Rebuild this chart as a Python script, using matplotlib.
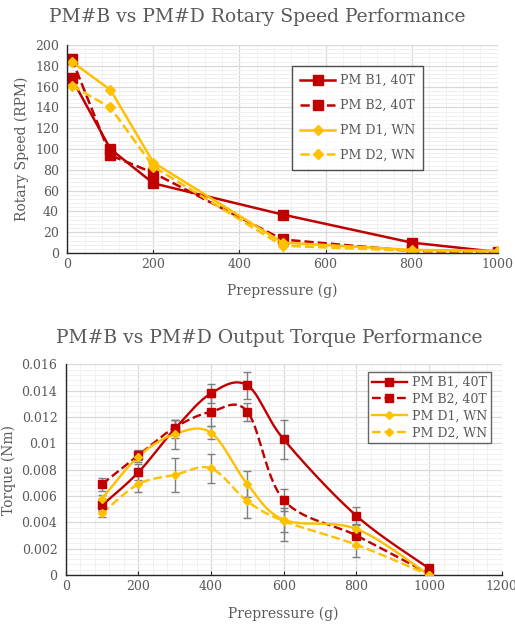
import numpy as np
import matplotlib
matplotlib.use("Agg")
import matplotlib.pyplot as plt
from matplotlib.ticker import MultipleLocator, FuncFormatter

plt.rcParams['font.family'] = ['DejaVu Serif']

# ---- speed data ----
speed_x = [10, 100, 200, 500, 800, 1000]
speed_b1 = [168, 100, 67, 37, 10, 1]
speed_b2 = [187, 94, 77, 13, 2, 0]
speed_d1 = [184, 157, 87, 10, 3, 2]
speed_d2 = [161, 140, 83, 7, 2, 1]

# ---- torque data ----
torque_x = [100, 200, 300, 400, 500, 600, 800, 1000]
torque_b1 = [0.0053, 0.0078, 0.0111, 0.0138, 0.0144, 0.0103, 0.0045, 0.0005]
torque_b2 = [0.0069, 0.0091, 0.0112, 0.0124, 0.0124, 0.0057, 0.0030, 0.0001]
torque_d1 = [0.0058, 0.0090, 0.0107, 0.0108, 0.0069, 0.0042, 0.0035, 0.0000]
torque_d2 = [0.0047, 0.0069, 0.0076, 0.0081, 0.0056, 0.0041, 0.0023, 0.0000]
err_b1 = [0.0004, 0.0006, 0.0007, 0.0007, 0.0010, 0.0015, 0.0007, 0.0001]
err_b2 = [0.0005, 0.0004, 0.0006, 0.0011, 0.0007, 0.0008, 0.0008, 0.0001]
err_d1 = [0.0003, 0.0004, 0.0011, 0.0005, 0.0010, 0.0009, 0.0004, 0.0000]
err_d2 = [0.0003, 0.0006, 0.0013, 0.0011, 0.0013, 0.0015, 0.0009, 0.0000]

labels = ['PM B1, 40T', 'PM B2, 40T', 'PM D1, WN', 'PM D2, WN']
RED = '#C00000'
GOLD = '#FFC000'
TXT = '#595959'


def smooth(x, y, sx, sy, n=30):
    # Excel-like smoothed line (Catmull-Rom bezier), done in screen-ish units
    p = np.column_stack([np.asarray(x, float) / sx, np.asarray(y, float) / sy])
    pts = np.vstack([p[0], p, p[-1]])
    out = []
    t = np.linspace(0, 1, n)[:, None]
    for i in range(1, len(pts) - 2):
        p0, p1, p2, p3 = pts[i - 1], pts[i], pts[i + 1], pts[i + 2]
        c1 = p1 + (p2 - p0) / 6
        c2 = p2 - (p3 - p1) / 6
        seg = ((1 - t) ** 3) * p1 + 3 * ((1 - t) ** 2) * t * c1 + 3 * (1 - t) * t ** 2 * c2 + t ** 3 * p2
        out.append(seg if i == 1 else seg[1:])
    out = np.vstack(out)
    return out[:, 0] * sx, out[:, 1] * sy


def style_axes(ax):
    ax.set_facecolor('white')
    ax.grid(which='major', color='#d9d9d9', lw=0.9)
    ax.grid(which='minor', color='#f0f0f0', lw=0.7)
    ax.set_axisbelow(True)
    for s in ['top', 'right']:
        ax.spines[s].set_visible(False)
    for s in ['left', 'bottom']:
        ax.spines[s].set_color('#262626')
        ax.spines[s].set_linewidth(1.0)
    ax.tick_params(axis='both', which='both', colors=TXT, labelsize=9)
    ax.tick_params(axis='y', which='both', length=0, pad=6)
    ax.tick_params(axis='x', which='major', direction='in', length=3, color='#262626')
    ax.tick_params(axis='x', which='minor', length=0)


fig = plt.figure(figsize=(5.15, 6.27), dpi=100)

# ---------- top: rotary speed ----------
ax1 = fig.add_axes([0.1307, 0.5965, 0.8357, 0.3317])
ax1.plot(speed_x, speed_b1, color=RED, lw=1.8, marker='s', ms=7, label=labels[0])
ax1.plot(speed_x, speed_b2, color=RED, lw=1.8, ls='--', marker='s', ms=7, label=labels[1])
ax1.plot(speed_x, speed_d1, color=GOLD, lw=1.8, marker='D', ms=5, label=labels[2])
ax1.plot(speed_x, speed_d2, color=GOLD, lw=1.8, ls='--', marker='D', ms=5, label=labels[3])
ax1.set_xlim(0, 1000)
ax1.set_ylim(0, 200)
ax1.xaxis.set_major_locator(MultipleLocator(200))
ax1.xaxis.set_minor_locator(MultipleLocator(40))
ax1.yaxis.set_major_locator(MultipleLocator(20))
ax1.yaxis.set_minor_locator(MultipleLocator(4))
style_axes(ax1)
ax1.set_xlabel('Prepressure (g)', color=TXT, fontsize=10, labelpad=9)
ax1.set_ylabel('Rotary Speed (RPM)', color=TXT, fontsize=10)
fig.text(0.5, 1 - 17 / 627, 'PM#B vs PM#D Rotary Speed Performance', color=TXT,
         fontsize=13.5, ha='center', va='center')
leg1 = ax1.legend(loc='upper left', bbox_to_anchor=(0.522, 0.899), fontsize=9,
                  frameon=True, fancybox=False, labelspacing=0.95, handlelength=2.8,
                  borderpad=0.65, handletextpad=0.4, borderaxespad=0, labelcolor=TXT)
leg1.get_frame().set_edgecolor('#262626')
leg1.get_frame().set_linewidth(1.0)

# ---------- bottom: torque ----------
ax2 = fig.add_axes([0.1276, 0.0829, 0.8466, 0.336])
sx, sy = 1200 / 436.0, 0.016 / 210.7
series = [
    (torque_b1, err_b1, RED, '-', 's', 6, labels[0]),
    (torque_b2, err_b2, RED, '--', 's', 6, labels[1]),
    (torque_d1, err_d1, GOLD, '-', 'D', 4.5, labels[2]),
    (torque_d2, err_d2, GOLD, '--', 'D', 4.5, labels[3]),
]
for y, e, c, ls, m, ms, lab in series:
    ax2.errorbar(torque_x, y, yerr=e, fmt='none', ecolor='#7f7f7f', elinewidth=1.0,
                 capsize=3, capthick=1.0, zorder=2)
for y, e, c, ls, m, ms, lab in series:
    xs, ys = smooth(torque_x, y, sx, sy)
    ax2.plot(xs, ys, color=c, lw=1.7, ls=ls, zorder=3)
    ax2.plot(torque_x, y, ls='none', marker=m, ms=ms, color=c, zorder=4)
    ax2.plot([], [], color=c, lw=1.7, ls=ls, marker=m, ms=ms, label=lab)
ax2.set_xlim(0, 1200)
ax2.set_ylim(0, 0.016)
ax2.xaxis.set_major_locator(MultipleLocator(200))
ax2.xaxis.set_minor_locator(MultipleLocator(40))
ax2.yaxis.set_major_locator(MultipleLocator(0.002))
ax2.yaxis.set_minor_locator(MultipleLocator(0.0004))
ax2.yaxis.set_major_formatter(FuncFormatter(lambda v, p: '0' if v == 0 else ('%.3f' % v).rstrip('0')))
style_axes(ax2)
ax2.set_xlabel('Prepressure (g)', color=TXT, fontsize=10, labelpad=10)
ax2.set_ylabel('Torque (Nm)', color=TXT, fontsize=10, labelpad=4)
fig.text(269 / 515, 1 - 338 / 627, 'PM#B vs PM#D Output Torque Performance', color=TXT,
         fontsize=13.5, ha='center', va='center')
leg2 = ax2.legend(loc='upper left', bbox_to_anchor=(0.693, 0.962), fontsize=9,
                  frameon=True, fancybox=False, labelspacing=0.3, handlelength=2.8,
                  borderpad=0.3, handletextpad=0.4, borderaxespad=0, labelcolor=TXT)
leg2.get_frame().set_edgecolor('#404040')
leg2.get_frame().set_linewidth(1.0)

fig.savefig('out.png', dpi=100, facecolor='white')
